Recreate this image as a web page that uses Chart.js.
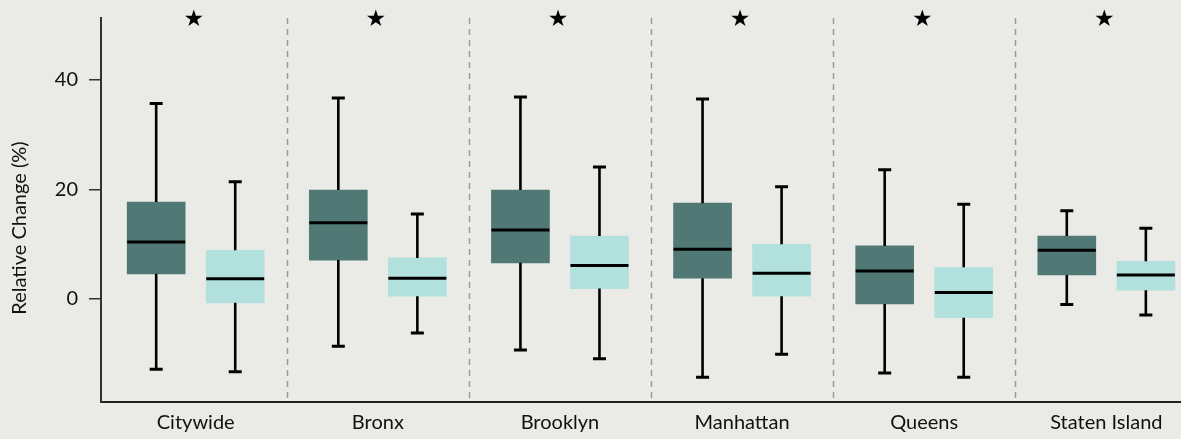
<!DOCTYPE html>
<html>
<head>
<meta charset="utf-8">
<title>Relative Change by Borough</title>
<script src="https://cdn.jsdelivr.net/npm/chart.js@4.4.1/dist/chart.umd.min.js"></script>
<style>
  html, body { margin: 0; padding: 0; background: #eaeae6; overflow: hidden; }
  canvas { display: block; }
</style>
</head>
<body>
<canvas id="chart" width="1181" height="439"></canvas>
<script>
// Categories along the x axis
const categories = ['Citywide', 'Bronx', 'Brooklyn', 'Manhattan', 'Queens', 'Staten Island'];

// First series (dark teal): five-number summary per category, in %
const darkMin    = [-12.8, -8.6, -9.3, -14.3, -13.5, -1.0];
const darkQ1     = [4.6, 7.1, 6.6, 3.8, -0.9, 4.4];
const darkMedian = [10.4, 13.9, 12.6, 9.1, 5.1, 8.9];
const darkQ3     = [17.7, 19.9, 19.9, 17.5, 9.7, 11.5];
const darkMax    = [35.7, 36.7, 36.9, 36.5, 23.6, 16.1];

// Second series (light aqua)
const lightMin    = [-13.3, -6.2, -10.9, -10.1, -14.3, -2.9];
const lightQ1     = [-0.7, 0.5, 1.9, 0.5, -3.4, 1.6];
const lightMedian = [3.7, 3.8, 6.1, 4.7, 1.2, 4.4];
const lightQ3     = [8.9, 7.5, 11.5, 10.0, 5.8, 6.9];
const lightMax    = [21.4, 15.5, 24.1, 20.5, 17.3, 12.9];

// Categories flagged with a star above them
const significant = [true, true, true, true, true, true];

// Y axis tick values
const yTicks = [0, 20, 40];

const FONT = 'Lato, "Open Sans", "DejaVu Sans", sans-serif';
const DARK = '#507874';
const LIGHT = '#b2e0dc';
const PAIR_OFFSET = 0.217;   // horizontal shift of each box from its category centre (category units)

function boxData(q1, q3, shift) {
  return categories.map((c, i) => ({ x: i + shift, y: [q1[i], q3[i]] }));
}

const datasets = [
  {
    label: 'Series A',
    data: boxData(darkQ1, darkQ3, -PAIR_OFFSET),
    backgroundColor: DARK,
    stats: { min: darkMin, median: darkMedian, max: darkMax, q1: darkQ1, q3: darkQ3 }
  },
  {
    label: 'Series B',
    data: boxData(lightQ1, lightQ3, PAIR_OFFSET),
    backgroundColor: LIGHT,
    stats: { min: lightMin, median: lightMedian, max: lightMax, q1: lightQ1, q3: lightQ3 }
  }
].map(d => Object.assign(d, { barThickness: 58, grouped: false, borderWidth: 0 }));

// Canvas background
const backgroundPlugin = {
  id: 'background',
  beforeDraw(chart) {
    const ctx = chart.ctx;
    ctx.save();
    ctx.fillStyle = '#eaeae6';
    ctx.fillRect(0, 0, chart.width, chart.height);
    ctx.restore();
  }
};

// Dashed separators between categories
const separatorPlugin = {
  id: 'separators',
  beforeDatasetsDraw(chart) {
    const { ctx, chartArea, scales: { x } } = chart;
    ctx.save();
    ctx.strokeStyle = '#9a9a98';
    ctx.lineWidth = 1.5;
    ctx.setLineDash([6, 5]);
    for (let i = 0; i < categories.length - 1; i++) {
      const px = Math.round(x.getPixelForValue(i + 0.5)) + 0.5;
      ctx.beginPath();
      ctx.moveTo(px, chartArea.top);
      ctx.lineTo(px, chartArea.bottom);
      ctx.stroke();
    }
    ctx.restore();
  }
};

// Whiskers, caps and median lines on top of the floating bars
const whiskerPlugin = {
  id: 'whiskers',
  afterDatasetsDraw(chart) {
    const { ctx, scales: { y } } = chart;
    ctx.save();
    ctx.strokeStyle = '#000';
    ctx.lineCap = 'butt';
    chart.data.datasets.forEach((ds, d) => {
      const meta = chart.getDatasetMeta(d);
      const s = ds.stats;
      meta.data.forEach((bar, i) => {
        const cx = bar.x;
        const half = bar.width / 2;
        const pMin = y.getPixelForValue(s.min[i]);
        const pMax = y.getPixelForValue(s.max[i]);
        const pQ1 = y.getPixelForValue(s.q1[i]);
        const pQ3 = y.getPixelForValue(s.q3[i]);
        const pMed = y.getPixelForValue(s.median[i]);
        ctx.lineWidth = 2.6;
        ctx.beginPath();
        ctx.moveTo(cx, pQ3); ctx.lineTo(cx, pMax);
        ctx.moveTo(cx, pQ1); ctx.lineTo(cx, pMin);
        ctx.stroke();
        ctx.lineWidth = 3;
        ctx.beginPath();
        ctx.moveTo(cx - 6.5, pMax); ctx.lineTo(cx + 6.5, pMax);
        ctx.moveTo(cx - 6.5, pMin); ctx.lineTo(cx + 6.5, pMin);
        ctx.moveTo(cx - half, pMed); ctx.lineTo(cx + half, pMed);
        ctx.stroke();
      });
    });
    ctx.restore();
  }
};

// Stars above flagged categories and the rotated y-axis title
const annotationPlugin = {
  id: 'annotations',
  afterDraw(chart) {
    const { ctx, chartArea, scales: { x } } = chart;
    ctx.save();
    ctx.fillStyle = '#000';
    ctx.font = '23px "DejaVu Sans", sans-serif';
    ctx.textAlign = 'center';
    ctx.textBaseline = 'middle';
    significant.forEach((flag, i) => {
      if (flag) ctx.fillText('\u2605', x.getPixelForValue(i) - 2, chartArea.top + 2);
    });
    ctx.translate(20, (chartArea.top + chartArea.bottom) / 2 + 18);
    ctx.rotate(-Math.PI / 2);
    ctx.font = '20px ' + FONT;
    ctx.fillStyle = '#111';
    ctx.fillText('Relative Change (%)', 0, 0);
    ctx.restore();
  }
};

new Chart(document.getElementById('chart'), {
  type: 'bar',
  data: { datasets },
  plugins: [backgroundPlugin, separatorPlugin, whiskerPlugin, annotationPlugin],
  options: {
    responsive: false,
    animation: false,
    devicePixelRatio: 1,
    layout: { autoPadding: false, padding: { top: 18, left: 0, right: 0, bottom: 0 } },
    plugins: { legend: { display: false }, tooltip: { enabled: false } },
    scales: {
      x: {
        type: 'linear',
        offset: false,
        min: -0.52,
        max: 5.41,
        afterBuildTicks(scale) { scale.ticks = categories.map((c, i) => ({ value: i })); },
        afterFit(scale) {
          scale.height = 37;
          scale.paddingLeft = 0;
          scale.paddingRight = 0;
        },
        ticks: {
          callback: (v) => categories[v],
          font: { family: FONT, size: 20 },
          color: '#111',
          padding: 9,
          maxRotation: 0,
          autoSkip: false
        },
        grid: { display: false, drawTicks: false },
        border: { display: true, color: '#222', width: 2 }
      },
      y: {
        min: -18.8,
        max: 51.3,
        afterBuildTicks(scale) { scale.ticks = yTicks.map(v => ({ value: v })); },
        afterFit(scale) {
          scale.width = 101;
          scale.paddingTop = 0;
          scale.paddingBottom = 0;
        },
        ticks: {
          font: { family: FONT, size: 20 },
          color: '#111',
          padding: 11
        },
        grid: { drawOnChartArea: false, drawTicks: true, tickLength: 12, color: '#333', lineWidth: 1.5 },
        border: { display: true, color: '#333', width: 2 }
      }
    }
  }
});
</script>
</body>
</html>
